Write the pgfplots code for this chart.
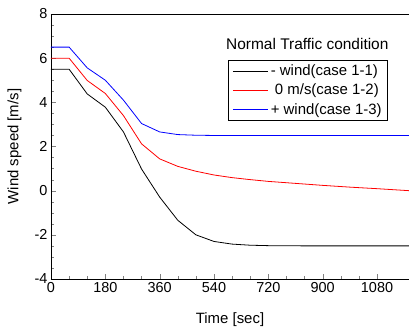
\documentclass[border=0pt]{standalone}
\usepackage{pgfplots}
\pgfplotsset{compat=1.18}
\usepackage{fontspec}
\setmainfont{Liberation Sans}
\begin{document}
\begin{tikzpicture}
\useasboundingbox (-51bp,-48bp) rectangle (358bp,279bp);
\begin{axis}[
  at={(0,0)}, anchor=south west,
  scale only axis, width=358bp, height=265bp,
  xmin=0, xmax=1186, ymin=-4, ymax=8,
  separate axis lines,
  axis x line*=box, axis y line*=left,
  xtick={0,180,...,1080}, ytick={-4,-2,...,8},
  minor x tick num=2, minor y tick num=3,
  tick align=inside,
  major tick length=5bp, minor tick length=3bp,
  xtick pos=bottom,
  /pgf/number format/assume math mode=true,
  /pgf/number format/set thousands separator={},
  tick label style={font=\fontsize{14.5}{16}\selectfont},
  label style={font=\fontsize{15}{17}\selectfont},
  xlabel={Time [sec]}, ylabel={Wind speed [m/s]},
  xlabel style={at={(axis description cs:0.5,0)}, anchor=north, yshift=-30bp},
  ylabel style={at={(axis description cs:0,0.5)}, anchor=south, yshift=26bp},
  legend style={at={(axis description cs:0.941,0.826)}, anchor=north east,
    font=\fontsize{15}{17}\selectfont, inner xsep=4bp, inner ysep=2.5bp, row sep=3bp},
  legend cell align=left,
  legend image code/.code={\draw[#1] (0cm,0cm) -- (1.25cm,0cm);},
]
\addplot[draw=black, line width=0.8pt] coordinates {
(0,5.5) (60,5.5) (120,4.38) (180,3.78) (240,2.66) (300,0.98) (360,-0.29) (420,-1.34)
(480,-2.0) (540,-2.3) (600,-2.42) (660,-2.47) (720,-2.49) (840,-2.5) (1186,-2.5)};
\addlegendentry{- wind(case 1-1)}
\addplot[draw=red, line width=0.8pt] coordinates {
(0,6.0) (60,6.0) (120,4.99) (180,4.40) (240,3.40) (300,2.12) (360,1.44) (420,1.10)
(480,0.88) (540,0.71) (600,0.59) (660,0.50) (720,0.42) (810,0.33) (900,0.24) (990,0.16) (1080,0.09) (1186,0.0)};
\addlegendentry{\ 0 m/s(case 1-2)}
\addplot[draw=blue, line width=0.8pt] coordinates {
(0,6.5) (60,6.5) (120,5.56) (180,5.0) (240,4.1) (300,3.04) (360,2.66) (420,2.54)
(480,2.51) (540,2.5) (1186,2.5)};
\addlegendentry{+ wind(case 1-3)}
\node[font=\fontsize{15.5}{17}\selectfont] at (rel axis cs:0.716,0.887) {Normal Traffic condition};
\end{axis}
\end{tikzpicture}
\end{document}
